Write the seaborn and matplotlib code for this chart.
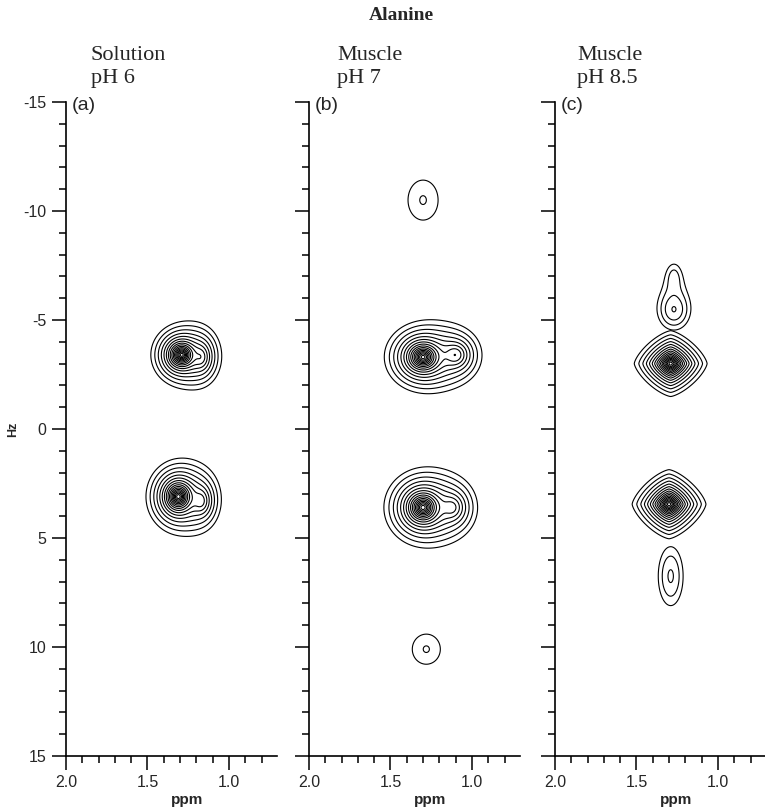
import numpy as np
import seaborn as sns
import matplotlib.pyplot as plt
from matplotlib.ticker import MultipleLocator

# peak centres (ppm, Hz), heights, half-widths and shape for each spectrum
# peaks with the same group number are summed and drawn as one cross peak
ppm_a = [1.29, 1.17, 1.31, 1.17]
hz_a = [-3.4, -3.3, 3.1, 3.3]
amp_a = [58, 4, 60, 4]
wppm_a = [0.024, 0.045, 0.025, 0.045]
whz_a = [0.18, 0.5, 0.21, 0.5]
shape_a = [2.0, 2.0, 2.0, 2.0]
group_a = [0, 0, 1, 1]

ppm_b = [1.30, 1.30, 1.10, 1.30, 1.12, 1.28]
hz_b = [-10.5, -3.3, -3.4, 3.6, 3.6, 10.1]
amp_b = [1.32, 58, 5, 60, 4, 1.32]
wppm_b = [0.163, 0.03, 0.06, 0.03, 0.06, 0.152]
whz_b = [1.62, 0.2, 0.45, 0.22, 0.5, 1.22]
shape_b = [2.0, 2.0, 2.0, 2.0, 2.0, 2.0]
group_b = [0, 1, 1, 2, 2, 3]

ppm_c = [1.27, 1.27, 1.29, 1.30, 1.29]
hz_c = [-7.0, -5.45, -3.0, 3.45, 6.75]
amp_c = [1.1, 2.0, 58, 58, 1.75]
wppm_c = [0.06, 0.09, 0.0296, 0.03, 0.088]
whz_c = [0.8, 0.82, 0.2, 0.21, 1.56]
shape_c = [2.0, 2.0, 1.4, 1.4, 2.0]
group_c = [0, 0, 1, 2, 3]

panel_labels = ['(a)', '(b)', '(c)']
sample = ['Solution', 'Muscle', 'Muscle']
ph = ['pH 6', 'pH 7', 'pH 8.5']
levels = 1.3 ** np.arange(16)

sns.set_style('ticks')
plt.rcParams['font.family'] = ['Liberation Sans', 'DejaVu Sans']

P, H = np.meshgrid(np.linspace(2.0, 0.7, 500), np.linspace(-15, 15, 1200))


def cross_peak(ppm, hz, amp, wp, wh, shape):
    z = np.zeros_like(P)
    for c, h, a, gx, gy, p in zip(ppm, hz, amp, wp, wh, shape):
        u = np.abs(P - c) / gx
        v = np.abs(H - h) / gy
        z += a / (1 + (u ** p + v ** p) ** (2 / p))
    return z


data = [(ppm_a, hz_a, amp_a, wppm_a, whz_a, shape_a, group_a),
        (ppm_b, hz_b, amp_b, wppm_b, whz_b, shape_b, group_b),
        (ppm_c, hz_c, amp_c, wppm_c, whz_c, shape_c, group_c)]

W, Hpx = 765, 807
fig = plt.figure(figsize=(7.65, 8.07), dpi=100)
lefts = [66, 309, 555]
text_x = [91, 337, 577]

for i in range(3):
    ax = fig.add_axes([lefts[i] / W, 1 - 756 / Hpx, 211 / W, 654 / Hpx])
    cols = data[i][:6]
    grp = data[i][6]
    for g in sorted(set(grp)):
        idx = [k for k in range(len(grp)) if grp[k] == g]
        z = cross_peak(*[[col[k] for k in idx] for col in cols])
        ax.contour(P, H, z, levels=levels, colors='black', linewidths=0.8)
    ax.set_xlim(2.0, 0.705)
    ax.set_ylim(15, -15)
    sns.despine(ax=ax)
    for s in ['left', 'bottom']:
        ax.spines[s].set_linewidth(1.2)
        ax.spines[s].set_color('black')
    ax.xaxis.set_major_locator(MultipleLocator(0.5))
    ax.xaxis.set_minor_locator(MultipleLocator(0.1))
    ax.yaxis.set_major_locator(MultipleLocator(5))
    ax.yaxis.set_minor_locator(MultipleLocator(1))
    ax.tick_params(which='major', length=10, width=1.1, labelsize=11.5, pad=4, color='black')
    ax.tick_params(which='minor', length=5, width=1.1, color='black')
    ax.set_xticks([2.0, 1.5, 1.0])
    ax.set_xticklabels(['2.0', '1.5', '1.0'])
    if i == 0:
        ax.set_yticks([-15, -10, -5, 0, 5, 10, 15])
        ax.set_yticklabels(['-15', '-10', '-5', '0', '5', '10', '15'])
        ax.set_ylabel('Hz', fontsize=9, fontweight='bold')
        ax.yaxis.set_label_coords(-0.22, 0.5)
    else:
        ax.tick_params(axis='y', labelleft=False)
    ax.set_xlabel('ppm', fontsize=11, fontweight='bold')
    ax.xaxis.set_label_coords(0.573, -0.056)
    ax.text(0.025, 0.994, panel_labels[i], transform=ax.transAxes,
            fontsize=14, ha='left', va='center')
    fig.text(text_x[i] / W, 1 - 55 / Hpx, sample[i], family='Liberation Serif',
             fontsize=16, ha='left', va='center')
    fig.text(text_x[i] / W, 1 - 79 / Hpx, ph[i], family='Liberation Serif',
             fontsize=16, ha='left', va='center')

fig.text(401 / W, 1 - 15 / Hpx, 'Alanine', family='Liberation Serif',
         fontsize=14, fontweight='bold', ha='center', va='center')

fig.savefig('out.png', dpi=100, facecolor='white')
